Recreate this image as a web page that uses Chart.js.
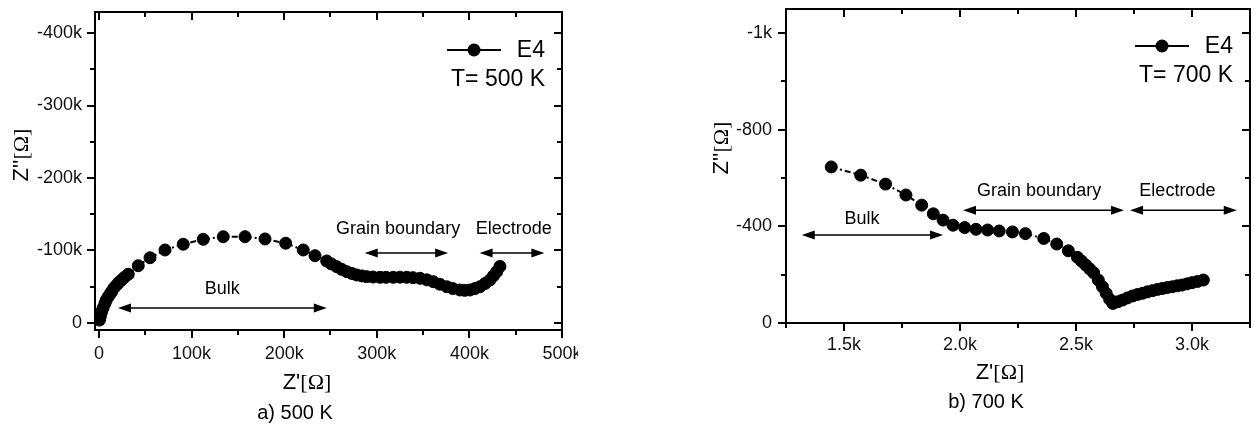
<!DOCTYPE html>
<html>
<head>
<meta charset="utf-8">
<script src="https://cdn.jsdelivr.net/npm/chart.js@4.4.0/dist/chart.umd.min.js"></script>
<style>
    html, body { margin: 0; padding: 0; background: #fff; }
    body { width: 1257px; height: 426px; position: relative; overflow: hidden; }
    canvas { position: absolute; top: 0; }
    #nyquist-500k { left: 0; }
    #nyquist-700k { left: 660px; }
</style>
</head>
<body>
<canvas id="nyquist-500k" width="578" height="426"></canvas>
<canvas id="nyquist-700k" width="597" height="426"></canvas>
<script>
// Sample E4, T = 500 K : Z' and -Z'' in ohms
const zReal500 = [500, 1500, 2900, 4500, 6500, 8000, 10000, 12000, 13700, 16000,
    19100, 21500, 24500, 27500, 31600, 42400, 55100, 71300, 91000, 112600,
    134200, 157700, 179300, 201600, 220600, 233300, 245900, 251000, 256700, 262000,
    267500, 273000, 278300, 284000, 289100, 296000, 303500, 310000, 317800, 325000,
    332300, 339000, 346700, 354000, 361000, 368000, 375500, 382000, 389800, 395000,
    400600, 406000, 411400, 417000, 422200, 426000, 429500, 433000];
const zImag500 = [4000, 9000, 15600, 21000, 27200, 32000, 36300, 40000, 43200, 48000,
    52400, 56000, 59300, 63000, 67200, 79000, 90000, 100700, 108600, 115400,
    119000, 119000, 115900, 110000, 100700, 92800, 85500, 81500, 77700, 74000,
    70800, 68300, 66200, 64900, 63900, 63400, 63000, 63000, 63000, 63200,
    63000, 62500, 61600, 59500, 57000, 53500, 50000, 47500, 45500, 45000,
    45500, 47500, 50000, 54500, 59300, 65000, 70800, 78000];

// Sample E4, T = 700 K
const zReal700 = [1445, 1572, 1679, 1767, 1835, 1885, 1927, 1970, 2020, 2069,
    2119, 2169, 2226, 2282, 2361, 2417, 2467, 2506, 2524, 2542,
    2559, 2576, 2596, 2614, 2630, 2645, 2659, 2680, 2701, 2722,
    2744, 2765, 2787, 2808, 2830, 2851, 2872, 2894, 2915, 2936,
    2957, 2979, 3000, 3024, 3049];
const zImag700 = [646, 612, 575, 530, 488, 452, 426, 405, 395, 388,
    385, 381, 377, 370, 350, 327, 299, 272, 256, 240,
    224, 208, 178, 150, 123, 98, 81, 88, 95, 104,
    112, 118, 123, 129, 134, 139, 143, 147, 150, 154,
    157, 162, 167, 172, 178];

// Axis ticks (empty label = minor tick)
const xTicks500 = [0, 50000, 100000, 150000, 200000, 250000, 300000, 350000, 400000, 450000, 500000];
const xLabels500 = ['0', '', '100k', '', '200k', '', '300k', '', '400k', '', '500k'];
const yTicks500 = [0, 50000, 100000, 150000, 200000, 250000, 300000, 350000, 400000];
const yLabels500 = ['0', '', '-100k', '', '-200k', '', '-300k', '', '-400k'];

const xTicks700 = [1250, 1500, 1750, 2000, 2250, 2500, 2750, 3000, 3250];
const xLabels700 = ['', '1.5k', '', '2.0k', '', '2.5k', '', '3.0k', ''];
const yTicks700 = [0, 200, 400, 600, 800, 1000, 1200];
const yLabels700 = ['0', '', '-400', '', '-800', '', '-1k'];

// Region markers: [label, from Z', to Z', arrow -Z'', text Z', text -Z'']
const regions500 = [
    ['Bulk', 20500, 246000, 20700, 133000, 47000],
    ['Grain boundary', 287000, 377000, 96500, 323000, 130000],
    ['Electrode', 411000, 481000, 96500, 448000, 130000]
];
const regions700 = [
    ['Bulk', 1318, 1927, 364, 1578, 430],
    ['Grain boundary', 2013, 2707, 467, 2341, 546],
    ['Electrode', 2733, 3193, 467, 2937, 546]
];

const SANS = '"Liberation Sans", Arial, Helvetica, sans-serif';
const SERIF = '"Liberation Serif", "Times New Roman", serif';

function toPoints(xs, ys) {
    return xs.map((x, i) => ({x: x, y: ys[i]}));
}

// Z'[Ω] style title: sans letters, serif bracketed unit
function drawUnitTitle(ctx, symbol, cx, cy, angle) {
    const unit = '[\u03A9]';
    ctx.save();
    ctx.translate(cx, cy);
    ctx.rotate(angle);
    ctx.font = '22px ' + SANS;
    const w1 = ctx.measureText(symbol).width;
    ctx.font = '22px ' + SERIF;
    const w2 = ctx.measureText(unit).width;
    let x = -(w1 + w2) / 2;
    ctx.textBaseline = 'middle';
    ctx.textAlign = 'left';
    ctx.font = '22px ' + SANS;
    ctx.fillText(symbol, x, 0);
    ctx.font = '22px ' + SERIF;
    ctx.fillText(unit, x + w1, 0);
    ctx.restore();
}

function drawArrowHead(ctx, tipX, y, dir) {
    ctx.beginPath();
    ctx.moveTo(tipX, y);
    ctx.lineTo(tipX - dir * 13, y - 4.5);
    ctx.lineTo(tipX - dir * 13, y + 4.5);
    ctx.closePath();
    ctx.fill();
}

function makeDecorPlugin(cfg) {
    return {
        id: 'panelDecor',
        afterDraw(chart) {
            const {ctx, chartArea: a, scales: {x, y}} = chart;
            ctx.save();
            ctx.strokeStyle = '#000';
            ctx.fillStyle = '#000';

            // frame with mirrored ticks: outward on bottom/left, inward on top/right
            ctx.lineWidth = 2;
            ctx.strokeRect(a.left, a.top, a.right - a.left, a.bottom - a.top);
            ctx.beginPath();
            x.ticks.forEach(t => {
                const px = Math.round(x.getPixelForValue(t.value));
                const len = t.label ? 8 : 5;
                ctx.moveTo(px, a.bottom);
                ctx.lineTo(px, a.bottom + len);
                ctx.moveTo(px, a.top);
                ctx.lineTo(px, a.top + len);
            });
            y.ticks.forEach(t => {
                const py = Math.round(y.getPixelForValue(t.value));
                const len = t.label ? 8 : 5;
                ctx.moveTo(a.left, py);
                ctx.lineTo(a.left - len, py);
                ctx.moveTo(a.right, py);
                ctx.lineTo(a.right - len, py);
            });
            ctx.stroke();

            // region arrows and labels
            ctx.lineWidth = 1.5;
            ctx.font = '18px ' + SANS;
            ctx.textAlign = 'center';
            ctx.textBaseline = 'middle';
            cfg.regions.forEach(([label, from, to, arrowY, textX, textY]) => {
                const x1 = x.getPixelForValue(from);
                const x2 = x.getPixelForValue(to);
                const py = y.getPixelForValue(arrowY);
                ctx.beginPath();
                ctx.moveTo(x1 + 6, py);
                ctx.lineTo(x2 - 6, py);
                ctx.stroke();
                drawArrowHead(ctx, x1, py, -1);
                drawArrowHead(ctx, x2, py, 1);
                ctx.fillText(label, x.getPixelForValue(textX), y.getPixelForValue(textY));
            });

            // legend block
            const ly = a.top + cfg.legendTop;
            ctx.lineWidth = 2;
            ctx.beginPath();
            ctx.moveTo(a.right - 115, ly);
            ctx.lineTo(a.right - 61, ly);
            ctx.stroke();
            ctx.beginPath();
            ctx.arc(a.right - 88, ly, 6.5, 0, Math.PI * 2);
            ctx.fill();
            ctx.font = '23px ' + SANS;
            ctx.textAlign = 'right';
            ctx.fillText('E4', a.right - 17, ly + 1);
            ctx.fillText(cfg.tempLabel, a.right - 17, ly + 30);

            // axis titles and caption
            drawUnitTitle(ctx, "Z'", cfg.xTitle[0], cfg.xTitle[1], 0);
            drawUnitTitle(ctx, "Z''", cfg.yTitle[0], cfg.yTitle[1], -Math.PI / 2);
            ctx.font = '20px ' + SANS;
            ctx.textAlign = 'center';
            ctx.fillText(cfg.caption, cfg.captionPos[0], cfg.captionPos[1]);
            ctx.restore();
        }
    };
}

function buildNyquist(canvasId, p) {
    const tickFont = {family: SANS, size: 18};
    return new Chart(document.getElementById(canvasId), {
        type: 'scatter',
        data: {
            datasets: [{
                label: 'E4',
                data: toPoints(p.zr, p.zi),
                showLine: true,
                borderColor: '#000',
                borderWidth: 2,
                borderDash: [6, 3, 2, 3],
                pointRadius: 6,
                pointBorderWidth: 1,
                pointBackgroundColor: '#000',
                pointBorderColor: '#000'
            }]
        },
        options: {
            responsive: false,
            animation: false,
            events: [],
            layout: {padding: {left: 0, bottom: 0, top: p.top, right: p.right}},
            plugins: {legend: {display: false}, tooltip: {enabled: false}},
            scales: {
                x: {
                    type: 'linear',
                    min: p.xMin,
                    max: p.xMax,
                    afterBuildTicks: s => { s.ticks = p.xTicks.map(v => ({value: v})); },
                    afterFit: s => {
                        s.height = p.xAxisHeight;
                        s.paddingLeft = 0;
                        s.paddingRight = 0;
                    },
                    grid: {display: false, drawTicks: false},
                    border: {display: false},
                    ticks: {
                        autoSkip: false, maxRotation: 0, padding: p.xPad,
                        font: tickFont, color: '#111',
                        callback: v => p.xLabels[p.xTicks.indexOf(v)]
                    }
                },
                y: {
                    type: 'linear',
                    min: p.yMin,
                    max: p.yMax,
                    afterBuildTicks: s => { s.ticks = p.yTicks.map(v => ({value: v})); },
                    afterFit: s => {
                        s.width = p.yAxisWidth;
                        s.paddingTop = 0;
                        s.paddingBottom = 0;
                    },
                    grid: {display: false, drawTicks: false},
                    border: {display: false},
                    ticks: {
                        autoSkip: false, padding: p.yPad,
                        font: tickFont, color: '#111',
                        callback: v => p.yLabels[p.yTicks.indexOf(v)]
                    }
                }
            }
        },
        plugins: [makeDecorPlugin(p.decor)]
    });
}

buildNyquist('nyquist-500k', {
    zr: zReal500, zi: zImag500,
    xMin: -4300, xMax: 500000, yMin: -9700, yMax: 429000,
    xTicks: xTicks500, xLabels: xLabels500, yTicks: yTicks500, yLabels: yLabels500,
    xPad: 13, yPad: 13,
    top: 12, right: 16, yAxisWidth: 95, xAxisHeight: 96,
    decor: {
        regions: regions500,
        legendTop: 38,
        tempLabel: 'T= 500 K',
        xTitle: [307, 383],
        yTitle: [22, 155],
        caption: 'a) 500 K',
        captionPos: [295, 413]
    }
});

buildNyquist('nyquist-700k', {
    zr: zReal700, zi: zImag700,
    xMin: 1250, xMax: 3250, yMin: 0, yMax: 1300,
    xTicks: xTicks700, xLabels: xLabels700, yTicks: yTicks700, yLabels: yLabels700,
    xPad: 11, yPad: 14,
    top: 9, right: 2, yAxisWidth: 126, xAxisHeight: 103,
    decor: {
        regions: regions700,
        legendTop: 37,
        tempLabel: 'T= 700 K',
        xTitle: [340, 373],
        yTitle: [62, 148],
        caption: 'b) 700 K',
        captionPos: [326, 402]
    }
});
</script>
</body>
</html>
